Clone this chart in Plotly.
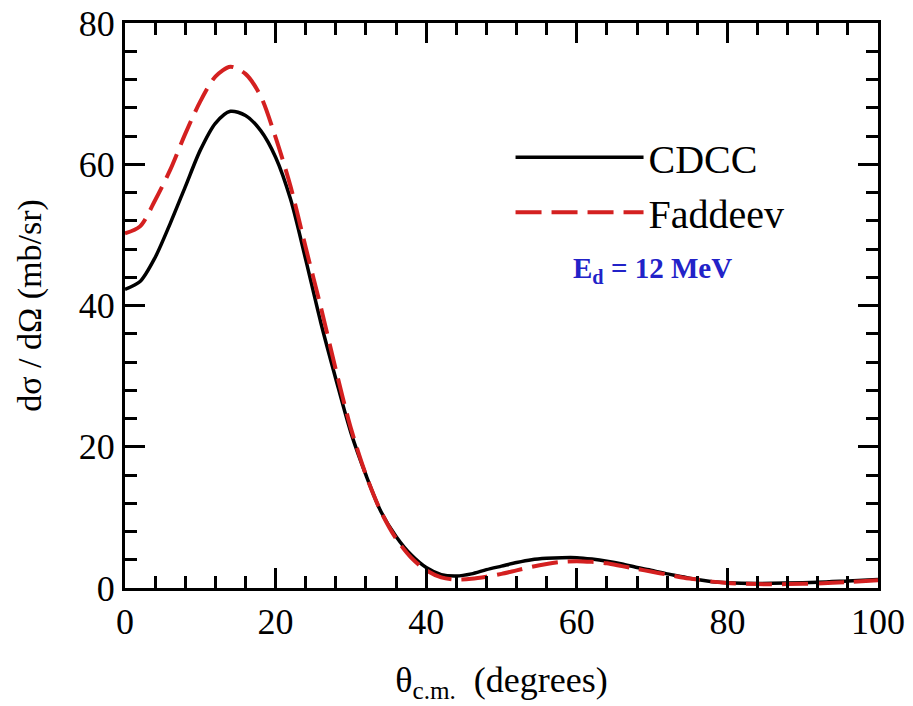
import plotly.graph_objects as go

theta = [0, 2, 4, 6, 8, 10, 12, 14, 16, 18, 20, 22, 24, 26, 28, 30, 32, 34, 36, 38,
         40, 42, 44, 46, 48, 50, 52, 54, 56, 58, 60, 62, 64, 66, 68, 70, 72, 74, 76, 78,
         80, 84, 88, 92, 96, 100]

cdcc = [42.3, 43.4, 46.8, 51.6, 56.8, 62.0, 65.8, 67.5, 66.9, 64.8, 61.0, 55.0, 46.5, 37.6, 29.6, 22.0, 16.0, 10.8, 7.3, 4.7,
        2.9, 1.9, 1.7, 2.0, 2.6, 3.1, 3.6, 4.0, 4.2, 4.3, 4.3, 4.1, 3.8, 3.4, 2.9, 2.5, 2.0, 1.6, 1.2, 0.9,
        0.75, 0.65, 0.7, 0.8, 1.0, 1.2]

faddeev = [50.2, 51.2, 54.9, 59.2, 64.3, 68.9, 72.4, 73.8, 72.8, 69.7, 63.8, 56.8, 48.2, 39.8, 30.9, 22.6, 16.0, 10.8, 7.0, 4.3,
           2.5, 1.5, 1.2, 1.3, 1.6, 2.0, 2.5, 3.0, 3.4, 3.7, 3.8, 3.7, 3.5, 3.1, 2.7, 2.3, 1.9, 1.5, 1.2, 0.9,
           0.7, 0.55, 0.55, 0.65, 0.85, 1.1]

x_ticks = [0, 20, 40, 60, 80, 100]
y_ticks = [0, 20, 40, 60, 80]

FONT = "Liberation Serif"

fig = go.Figure()
fig.add_trace(go.Scatter(x=theta, y=cdcc, mode="lines", name="CDCC",
                         line=dict(color="black", width=3.5, shape="spline", smoothing=0.8)))
fig.add_trace(go.Scatter(x=theta, y=faddeev, mode="lines", name="Faddeev",
                         line=dict(color="#d42020", width=4, dash="26px,10px", shape="spline", smoothing=0.8)))
# invisible helper trace so the top/right tick axes are drawn
fig.add_trace(go.Scatter(x=theta, y=cdcc, mode="lines", xaxis="x2", yaxis="y2", showlegend=False,
                         hoverinfo="skip", opacity=0, line=dict(width=0)))

tick_common = dict(
    ticks="inside", ticklen=20, tickwidth=2.5, tickcolor="black",
    showgrid=False, zeroline=False,
    tickfont=dict(family=FONT, size=36, color="black"),
    minor=dict(ticks="inside", ticklen=12, tickwidth=2.5, tickcolor="black", dtick=4, showgrid=False),
)

fig.update_layout(
    xaxis=dict(range=[0, 100], tickvals=x_ticks, ticktext=[str(v) for v in x_ticks],
               showline=True, linecolor="black", linewidth=3, mirror="allticks",
               title=dict(text="θ<sub>c.m.</sub>  (degrees)", font=dict(family=FONT, size=36, color="black"), standoff=26),
               **tick_common),
    yaxis=dict(range=[0, 80], tickvals=y_ticks, ticktext=[str(v) for v in y_ticks],
               showline=True, linecolor="black", linewidth=3, mirror="allticks",
               title=dict(text="dσ / dΩ (mb/sr)", font=dict(family=FONT, size=34, color="black"), standoff=27),
               **tick_common),
    xaxis2=dict(range=[0, 100], tickvals=x_ticks, overlaying="x", side="top", anchor="y",
                showticklabels=False, showline=False, **tick_common),
    yaxis2=dict(range=[0, 80], tickvals=y_ticks, overlaying="y", side="right", anchor="x",
                showticklabels=False, showline=False, **tick_common),
)

fig.add_annotation(x=0.701, y=0.563, xref="paper", yref="paper", xanchor="center", yanchor="middle",
                   text="<b>E<sub>d</sub> = 12 MeV</b>", showarrow=False,
                   font=dict(family=FONT, size=29, color="#2222c8"))

fig.update_layout(
    width=913, height=706,
    margin=dict(l=125, r=35, t=23, b=118, autoexpand=False),
    paper_bgcolor="white", plot_bgcolor="white",
    showlegend=True,
    legend=dict(x=0.512, y=0.82, xanchor="left", yanchor="top", itemwidth=128,
                font=dict(family=FONT, size=40, color="black"), bgcolor="rgba(0,0,0,0)",
                tracegroupgap=0),
)

fig.write_html("out.html", config={"displayModeBar": False},
               post_script="document.body.style.margin='0';")
